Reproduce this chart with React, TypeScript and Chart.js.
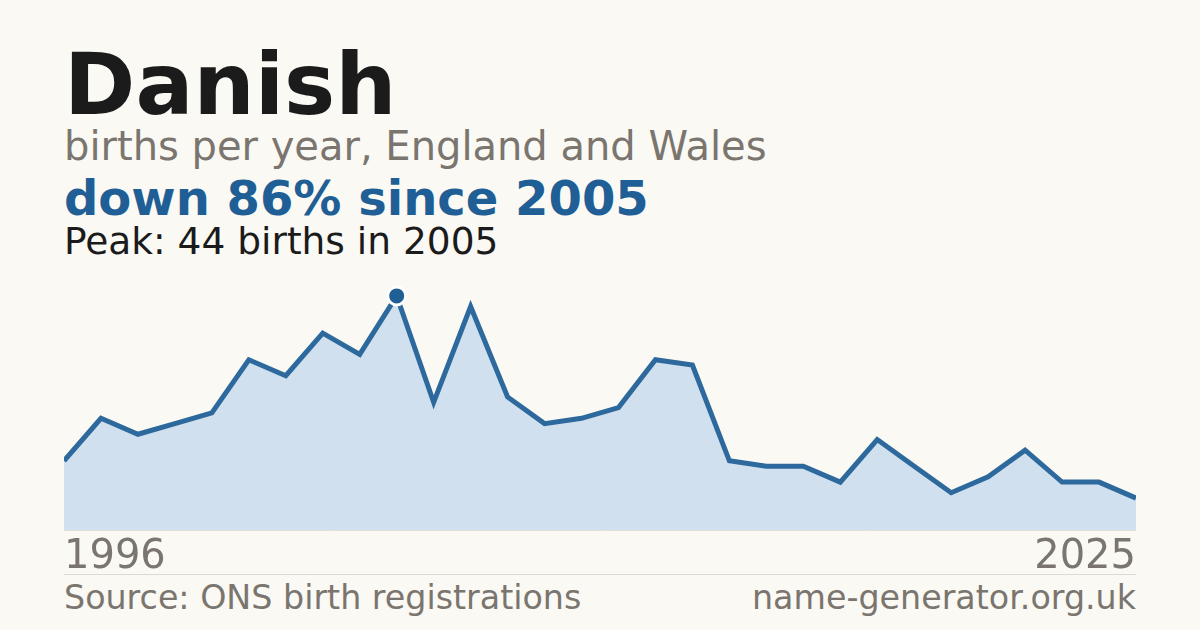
import React, { useEffect, useRef } from "react";
import Chart from "chart.js/auto";

const years = [
  "1996", "1997", "1998", "1999", "2000", "2001", "2002", "2003", "2004", "2005",
  "2006", "2007", "2008", "2009", "2010", "2011", "2012", "2013", "2014", "2015",
  "2016", "2017", "2018", "2019", "2020", "2021", "2022", "2023", "2024", "2025",
];
const births = [
  13, 21, 18, 20, 22, 32, 29, 37, 33, 44,
  24, 42, 25, 20, 21, 23, 32, 31, 13, 12,
  12, 9, 17, 12, 7, 10, 15, 9, 9, 6,
];
const peakYear = "2005";

const FONT = "'DejaVu Sans', sans-serif";
const GRAY = "#7a756e";
const BLUE = "#1f5f96";

export default function App() {
  const canvasEl = useRef<HTMLCanvasElement>(null);

  useEffect(() => {
    let chart: Chart<"line", number[], string> | undefined;
    if (canvasEl.current) {
      const ctx = canvasEl.current.getContext("2d");
      if (ctx) {
        const peakIdx = years.indexOf(peakYear);
        chart = new Chart(ctx, {
          type: "line",
          data: {
            labels: years,
            datasets: [
              {
                data: births,
                borderColor: "#2d699d",
                borderWidth: 5,
                borderJoinStyle: "miter",
                backgroundColor: "#d0e0ef",
                fill: "origin",
                tension: 0,
                pointRadius: years.map((_, i) => (i === peakIdx ? 9 : 0)),
                pointHoverRadius: 0,
                pointBackgroundColor: BLUE,
                pointBorderColor: "#ffffff",
                pointBorderWidth: 3,
              },
            ],
          },
          options: {
            animation: false,
            responsive: false,
            maintainAspectRatio: false,
            layout: { padding: 0, autoPadding: false },
            plugins: { legend: { display: false }, tooltip: { enabled: false } },
            scales: {
              x: {
                offset: false,
                grid: { display: false, drawTicks: false },
                border: { display: true, color: "#e3dfd8", width: 1 },
                ticks: {
                  autoSkip: false,
                  maxRotation: 0,
                  align: "inner",
                  padding: 4,
                  color: GRAY,
                  font: { family: FONT, size: 40 },
                  callback: (_v, i) =>
                    i === 0 || i === years.length - 1 ? years[i] : "",
                },
                afterFit: (axis) => {
                  // keep the plot flush with the 64..1136 text column
                  axis.height = 42;
                  axis.paddingLeft = 0;
                  axis.paddingRight = 0;
                },
              },
              y: {
                display: false,
                min: 0,
                max: 50,
              },
            },
          },
        });
      }
    }
    return () => {
      chart?.destroy();
    };
  }, []);

  const text = (
    top: number,
    size: number,
    color: string,
    bold: boolean
  ): React.CSSProperties => ({
    position: "absolute",
    left: 64,
    top,
    fontSize: size,
    lineHeight: `${size}px`,
    color,
    fontWeight: bold ? 700 : 400,
    whiteSpace: "nowrap",
  });

  return (
    <div
      style={{
        position: "fixed",
        left: 0,
        top: 0,
        width: 1200,
        height: 630,
        background: "#faf9f4",
        fontFamily: FONT,
        overflow: "hidden",
      }}
    >
      <div style={text(40.5, 86, "#1b1b1b", true)}>Danish</div>
      <div style={text(125.5, 40, GRAY, false)}>
        births per year, England and Wales
      </div>
      <div style={text(174, 48, BLUE, true)}>down 86% since 2005</div>
      <div style={text(222.5, 37.5, "#1b1b1b", false)}>Peak: 44 births in 2005</div>
      <canvas
        ref={canvasEl}
        width={1072}
        height={308}
        style={{ position: "absolute", left: 64, top: 264, width: 1072, height: 308 }}
      />
      <div
        style={{
          position: "absolute",
          left: 64,
          top: 574,
          width: 1072,
          borderTop: "1px solid #dedad3",
        }}
      />
      <div
        style={{
          position: "absolute",
          left: 64,
          top: 581,
          width: 1072,
          display: "flex",
          justifyContent: "space-between",
          fontSize: 33.3,
          lineHeight: "33px",
          color: GRAY,
        }}
      >
        <span>Source: ONS birth registrations</span>
        <span>name-generator.org.uk</span>
      </div>
    </div>
  );
}
